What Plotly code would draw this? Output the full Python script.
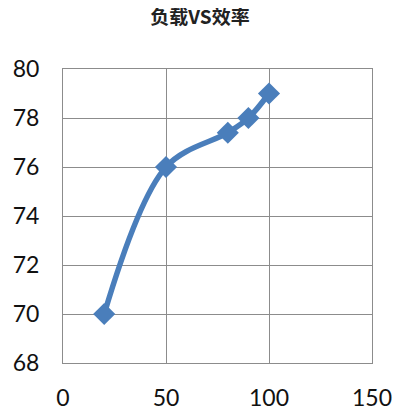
import plotly.graph_objects as go

load = [20, 50, 80, 90, 100]
efficiency = [70, 76, 77.4, 78, 79]
x_ticks = [0, 50, 100, 150]
y_ticks = [68, 70, 72, 74, 76, 78, 80]
title = "负载VS效率"

color = "#4a7ebb"
grid = "#8c8c8c"

# page body has an 8px margin, so the figure is sized 396x404
W, H = 396, 404

fig = go.Figure(go.Scatter(
    x=load, y=efficiency, mode="lines+markers",
    line=dict(color=color, width=5.5, shape="spline", smoothing=1.0),
    marker=dict(symbol="diamond", size=17, color=color),
))

fig.update_layout(
    width=W, height=H,
    margin=dict(l=55, r=32, t=61, b=49),
    paper_bgcolor="white", plot_bgcolor="white",
    showlegend=False,
    title=dict(text="<b>" + title + "</b>", x=192 / W, xanchor="center", y=1 - 3 / H, yanchor="top",
               font=dict(family="Noto Sans CJK SC", size=19, color="#222222")),
    font=dict(family="Lato, Open Sans, sans-serif", size=23, color="#111111"),
)
fig.update_xaxes(range=[0, 150], tickvals=x_ticks, showgrid=True, gridcolor=grid, gridwidth=1,
                 showline=True, linecolor=grid, linewidth=1, mirror=True, zeroline=False,
                 ticks="", ticklabelstandoff=14, automargin=False)
fig.update_yaxes(range=[68, 80], tickvals=y_ticks, showgrid=True, gridcolor=grid, gridwidth=1,
                 showline=True, linecolor=grid, linewidth=1, mirror=True, zeroline=False,
                 ticks="", ticklabelstandoff=18, automargin=False)

fig.write_html("out.html")
